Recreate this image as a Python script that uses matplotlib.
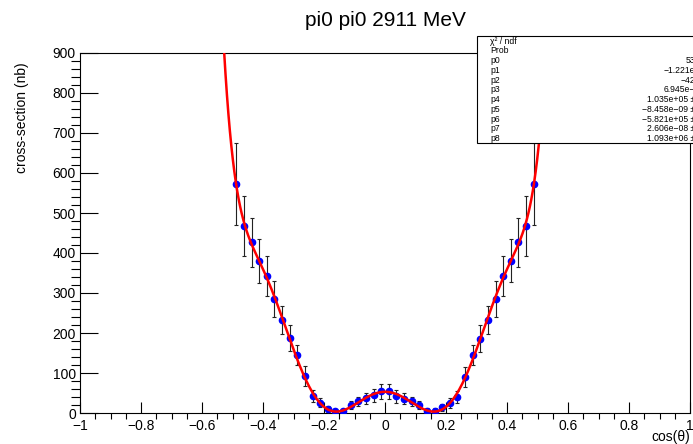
import numpy as np
import matplotlib.pyplot as plt
from matplotlib.ticker import MultipleLocator, FuncFormatter
from matplotlib.patches import Rectangle

plt.rcParams['font.family'] = ['Liberation Sans', 'DejaVu Sans']

# bin centres and measured cross-sections (nb)
cos_theta = [-0.4875, -0.4625, -0.4375, -0.4125, -0.3875, -0.3625, -0.3375, -0.3125,
             -0.2875, -0.2625, -0.2375, -0.2125, -0.1875, -0.1625, -0.1375, -0.1125,
             -0.0875, -0.0625, -0.0375, -0.0125, 0.0125, 0.0375, 0.0625, 0.0875,
             0.1125, 0.1375, 0.1625, 0.1875, 0.2125, 0.2375, 0.2625, 0.2875,
             0.3125, 0.3375, 0.3625, 0.3875, 0.4125, 0.4375, 0.4625, 0.4875]
xsec = [573, 467, 427, 380, 342, 284, 232, 187,
        144, 92, 42, 26, 10, 4, 5, 19,
        29, 37, 44, 54, 54, 42, 36, 29,
        19, 6, 6, 14, 25, 41, 91, 145,
        186, 232, 284, 342, 381, 427, 467, 573]
xsec_err = [102, 75, 61, 54, 50, 45, 35, 33,
            25, 25, 15, 12, 8, 6, 6, 10,
            12, 14, 16, 18, 18, 16, 14, 12,
            10, 6, 6, 8, 12, 15, 25, 25,
            33, 35, 45, 50, 54, 61, 75, 102]

# pol8 fit parameters p0..p8 (from the stats box)
fit_params = [53.0, -1.221e-11, -4220.0, 6.945e-10, 1.035e+05,
              -8.458e-09, -5.821e+05, 2.606e-08, 1.093e+06]

stat_labels = ["χ² / ndf", "Prob", "p0", "p1", "p2", "p3", "p4", "p5", "p6", "p7", "p8"]
stat_values = ["", "", "53", "−1.221e", "−42", "6.945e−", "1.035e+05 ±",
               "−8.458e−09 ±", "−5.821e+05 ±", "2.606e−08 ±", "1.093e+06 ±"]

W, H = 693, 444
fig = plt.figure(figsize=(W / 100, H / 100), dpi=100)
ax = fig.add_axes([80 / W, 31 / H, 610 / W, 360 / H])

ax.errorbar(cos_theta, xsec, yerr=xsec_err, fmt='none', ecolor='#222222',
            elinewidth=0.8, capsize=1.5, capthick=0.8, zorder=2)
ax.plot(cos_theta, xsec, 'o', color='blue', ms=4.5, zorder=3)

xf = np.linspace(-0.6, 0.6, 500)
yf = np.polynomial.polynomial.polyval(xf, fit_params)
ax.plot(xf, yf, color='red', lw=1.8, zorder=4)

ax.set_xlim(-1, 1)
ax.set_ylim(0, 900)
ax.xaxis.set_major_locator(MultipleLocator(0.2))
ax.xaxis.set_minor_locator(MultipleLocator(0.05))
ax.yaxis.set_major_locator(MultipleLocator(100))
ax.yaxis.set_minor_locator(MultipleLocator(20))
ax.xaxis.set_major_formatter(FuncFormatter(lambda v, p: ('%g' % round(v, 2)).replace('-', '−')))
ax.tick_params(direction='in', top=False, right=False, labelsize=10, width=0.8)
ax.tick_params(axis='x', which='major', length=8, pad=4)
ax.tick_params(axis='x', which='minor', length=4, width=0.8)
ax.tick_params(axis='y', which='major', length=13, pad=3)
ax.tick_params(axis='y', which='minor', length=6.5, width=0.8)
for s in ax.spines.values():
    s.set_linewidth(0.8)

fig.text(385 / W, 1 - 21 / H, "pi0 pi0 2911 MeV", ha='center', va='center', fontsize=15)
fig.text(22 / W, 1 - 62 / H, "cross-section (nb)", rotation=90, ha='center', va='top', fontsize=10)
fig.text(690 / W, 1 - 437 / H, "cos(θ)", ha='right', va='center', fontsize=10)

# stats box
box = Rectangle((477 / W, 1 - 143 / H), 230 / W, 107 / H, transform=fig.transFigure,
                facecolor='white', edgecolor='black', lw=0.8, zorder=5)
fig.add_artist(box)
for i, (lab, val) in enumerate(zip(stat_labels, stat_values)):
    y = 1 - (41 + i * 9.77) / H
    fig.text(490 / W, y, lab, ha='left', va='center', fontsize=6.2, zorder=6)
    fig.text(695 / W, y, val, ha='right', va='center', fontsize=6.2, zorder=6)

fig.savefig('out.png', dpi=100)
